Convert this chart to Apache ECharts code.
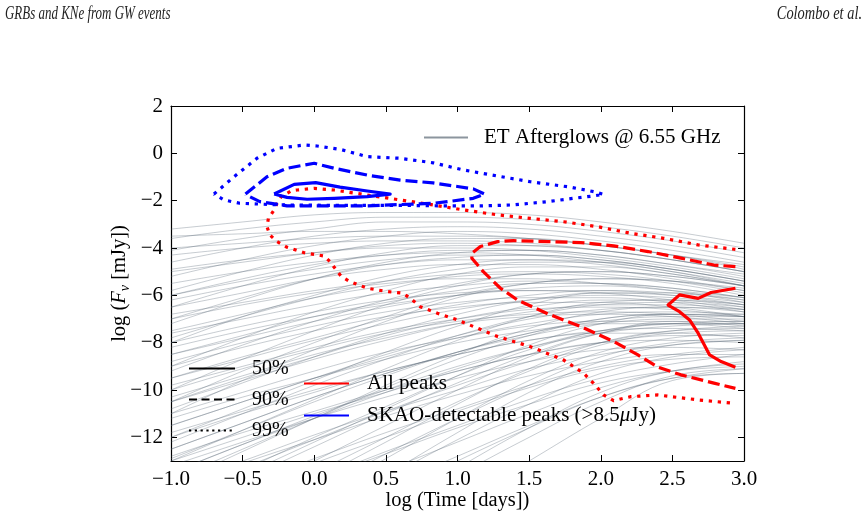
<!DOCTYPE html>
<html>
<head>
<meta charset="utf-8">
<script src="https://cdn.jsdelivr.net/npm/echarts@6/dist/echarts.min.js"></script>
<style>
  html, body { margin: 0; padding: 0; background: #fff; }
  #chart { width: 867px; height: 519px; }
</style>
</head>
<body>
<div id="chart"></div>
<script>
// log time grid (days) used by the afterglow light curves
const timeGrid = [-1, -0.5, 0, 0.5, 1, 1.5, 2, 2.5, 3];

// log flux of each light curve at timeGrid
const afterglows = [
  [-3.2, -2.9, -2.6, -2.5, -2.5, -2.6, -2.9, -3.3, -3.8],
  [-3.6, -3.2, -2.9, -2.7, -2.7, -2.8, -3.1, -3.5, -4.0],
  [-4.1, -3.6, -3.2, -2.9, -2.9, -3.0, -3.3, -3.7, -4.2],
  [-4.6, -4.0, -3.5, -3.2, -3.1, -3.2, -3.5, -3.9, -4.4],
  [-5.2, -4.5, -3.9, -3.5, -3.3, -3.4, -3.7, -4.1, -4.6],
  [-5.8, -5.0, -4.3, -3.8, -3.6, -3.6, -3.9, -4.3, -4.8],
  [-6.5, -5.6, -4.8, -4.2, -3.9, -3.9, -4.1, -4.5, -5.0],
  [-7.2, -6.2, -5.3, -4.6, -4.2, -4.1, -4.3, -4.7, -5.1],
  [-4.0, -3.8, -3.6, -3.5, -3.5, -3.6, -3.9, -4.3, -4.9],
  [-5.0, -4.6, -4.2, -3.9, -3.8, -3.9, -4.1, -4.5, -5.0],
  [-6.0, -5.3, -4.7, -4.3, -4.1, -4.1, -4.3, -4.7, -5.2],
  [-7.0, -6.1, -5.3, -4.7, -4.4, -4.3, -4.5, -4.9, -5.4],
  [-8.0, -6.9, -6.0, -5.2, -4.7, -4.5, -4.6, -5.0, -5.5],
  [-9.0, -7.8, -6.7, -5.8, -5.1, -4.8, -4.8, -5.1, -5.6],
  [-10.0, -8.7, -7.5, -6.4, -5.6, -5.1, -5.0, -5.2, -5.6],
  [-11.0, -9.6, -8.3, -7.1, -6.1, -5.5, -5.3, -5.4, -5.7],
  [-5.5, -5.0, -4.6, -4.3, -4.2, -4.3, -4.6, -5.0, -5.6],
  [-6.5, -5.9, -5.3, -4.9, -4.7, -4.7, -4.9, -5.3, -5.8],
  [-7.5, -6.8, -6.1, -5.6, -5.2, -5.1, -5.2, -5.5, -6.0],
  [-8.5, -7.7, -6.9, -6.3, -5.8, -5.5, -5.5, -5.7, -6.1],
  [-9.5, -8.6, -7.8, -7.0, -6.4, -6.0, -5.8, -5.9, -6.2],
  [-10.5, -9.5, -8.6, -7.7, -7.0, -6.5, -6.2, -6.2, -6.4],
  [-11.5, -10.5, -9.5, -8.5, -7.7, -7.0, -6.6, -6.5, -6.6],
  [-12.5, -11.4, -10.3, -9.3, -8.4, -7.6, -7.1, -6.9, -6.9],
  [-13.5, -12.3, -11.2, -10.1, -9.1, -8.2, -7.5, -7.2, -7.1],
  [-14.5, -13.3, -12.1, -10.9, -9.8, -8.8, -8.0, -7.5, -7.3],
  [-7.0, -6.4, -5.9, -5.5, -5.3, -5.3, -5.5, -5.8, -6.3],
  [-8.0, -7.3, -6.7, -6.2, -5.9, -5.8, -5.9, -6.2, -6.6],
  [-9.0, -8.2, -7.5, -6.9, -6.5, -6.3, -6.3, -6.5, -6.9],
  [-10.0, -9.1, -8.3, -7.6, -7.1, -6.8, -6.7, -6.8, -7.1],
  [-11.0, -10.1, -9.2, -8.4, -7.8, -7.3, -7.1, -7.1, -7.3],
  [-12.0, -11.0, -10.1, -9.2, -8.5, -7.9, -7.5, -7.4, -7.5],
  [-13.0, -12.0, -11.0, -10.1, -9.2, -8.5, -8.0, -7.7, -7.7],
  [-14.0, -13.0, -11.9, -10.9, -10.0, -9.1, -8.5, -8.1, -7.9],
  [-15.0, -14.0, -12.9, -11.8, -10.8, -9.8, -9.0, -8.5, -8.2],
  [-16.0, -15.0, -13.8, -12.6, -11.5, -10.4, -9.5, -8.9, -8.5],
  [-17.0, -15.8, -14.6, -13.4, -12.2, -11.0, -9.9, -9.2, -8.8],
  [-18.0, -16.7, -15.4, -14.1, -12.8, -11.5, -10.3, -9.5, -9.1],
  [-16.0, -14.9, -13.8, -12.7, -11.6, -10.6, -9.7, -9.2, -9.0],
  [-19.0, -17.5, -16.0, -14.5, -13.0, -11.6, -10.3, -9.5, -9.3],
  [-22.0, -20.2, -18.4, -16.6, -14.8, -13.0, -11.2, -9.6, -9.3],
  [-20.0, -18.4, -16.8, -15.2, -13.6, -12.0, -10.5, -9.4, -9.1],
  [-12.0, -10.8, -9.6, -8.4, -7.3, -6.4, -5.9, -5.9, -6.2],
  [-13.0, -11.7, -10.4, -9.1, -7.9, -6.9, -6.3, -6.2, -6.5],
  [-14.0, -12.6, -11.2, -9.8, -8.5, -7.4, -6.7, -6.5, -6.7],
  [-15.0, -13.6, -12.2, -10.8, -9.4, -8.1, -7.2, -6.8, -6.9],
  [-16.0, -14.5, -13.0, -11.5, -10.0, -8.6, -7.6, -7.1, -7.1],
  [-17.0, -15.4, -13.8, -12.2, -10.6, -9.1, -8.0, -7.5, -7.4],
  [-18.0, -16.3, -14.6, -12.9, -11.2, -9.6, -8.4, -7.8, -7.6],
  [-19.0, -17.2, -15.4, -13.6, -11.8, -10.1, -8.8, -8.1, -7.9],
  [-8.5, -7.8, -7.1, -6.5, -6.0, -5.7, -5.6, -5.8, -6.1],
  [-9.5, -8.7, -7.9, -7.2, -6.6, -6.2, -6.0, -6.1, -6.4],
  [-10.5, -9.6, -8.7, -7.9, -7.2, -6.7, -6.4, -6.4, -6.6],
  [-11.5, -10.5, -9.5, -8.6, -7.8, -7.2, -6.8, -6.7, -6.8],
  [-12.5, -11.4, -10.3, -9.3, -8.4, -7.7, -7.2, -7.0, -7.0],
  [-13.5, -12.3, -11.1, -10.0, -9.0, -8.2, -7.6, -7.3, -7.2],
  [-3.5, -3.4, -3.3, -3.3, -3.4, -3.6, -3.9, -4.3, -4.7],
  [-4.3, -4.0, -3.8, -3.7, -3.7, -3.8, -4.1, -4.5, -5.0],
  [-4.9, -4.5, -4.2, -4.0, -4.0, -4.1, -4.4, -4.8, -5.3],
  [-6.2, -5.6, -5.1, -4.7, -4.5, -4.5, -4.7, -5.1, -5.6],
  [-6.8, -6.3, -5.8, -5.4, -5.1, -5.0, -5.1, -5.4, -5.9],
  [-7.6, -7.0, -6.4, -5.9, -5.6, -5.4, -5.5, -5.7, -6.1],
  [-8.2, -7.5, -6.9, -6.4, -6.0, -5.8, -5.8, -6.0, -6.4],
  [-8.8, -8.0, -7.3, -6.7, -6.3, -6.1, -6.1, -6.3, -6.7],
  [-9.8, -9.0, -8.2, -7.5, -7.0, -6.6, -6.5, -6.6, -6.9],
  [-10.3, -9.4, -8.5, -7.8, -7.2, -6.9, -6.8, -6.9, -7.2],
  [-11.2, -10.3, -9.5, -8.7, -8.0, -7.5, -7.2, -7.2, -7.4],
  [-11.8, -10.9, -10.0, -9.2, -8.5, -7.9, -7.6, -7.6, -7.8],
  [-12.8, -11.8, -10.9, -10.0, -9.2, -8.5, -8.0, -7.9, -8.0],
  [-13.2, -12.2, -11.2, -10.3, -9.5, -8.8, -8.3, -8.2, -8.3],
  [-14.2, -13.1, -12.1, -11.1, -10.2, -9.4, -8.8, -8.5, -8.5],
  [-15.5, -14.3, -13.1, -12.0, -10.9, -9.9, -9.1, -8.7, -8.6],
  [-10.8, -9.7, -8.6, -7.6, -6.8, -6.2, -5.9, -6.0, -6.3],
  [-12.2, -11.0, -9.8, -8.7, -7.7, -6.9, -6.4, -6.3, -6.5],
  [-13.8, -12.5, -11.2, -9.9, -8.7, -7.7, -7.0, -6.8, -6.9],
  [-15.2, -13.8, -12.4, -11.0, -9.7, -8.5, -7.6, -7.2, -7.2],
  [-16.5, -15.0, -13.5, -12.0, -10.5, -9.2, -8.1, -7.6, -7.5],
  [-17.5, -15.9, -14.3, -12.7, -11.2, -9.8, -8.6, -8.0, -7.8],
  [-18.5, -16.9, -15.3, -13.7, -12.1, -10.6, -9.3, -8.6, -8.3],
  [-20.5, -18.7, -16.9, -15.1, -13.3, -11.6, -10.1, -9.2, -8.9],
  [-9.2, -8.1, -7.1, -6.2, -5.5, -5.1, -5.0, -5.2, -5.6],
  [-10.5, -9.2, -8.0, -6.9, -6.0, -5.5, -5.3, -5.4, -5.8],
  [-7.8, -6.9, -6.1, -5.4, -4.9, -4.6, -4.6, -4.9, -5.4],
  [-6.0, -5.4, -4.9, -4.5, -4.3, -4.3, -4.5, -4.9, -5.4],
  [-14.8, -13.4, -12.0, -10.7, -9.4, -8.3, -7.5, -7.2, -7.2],
  [-12.9, -11.7, -10.5, -9.4, -8.4, -7.6, -7.0, -6.8, -6.8]
];

// peak contours [log t, log F]
const blue50 = [[-0.28,-1.72],[-0.14,-1.31],[0.01,-1.24],[0.18,-1.43],[0.37,-1.59],[0.53,-1.72],[0.37,-1.83],[0.14,-1.90],[-0.05,-1.94],[-0.19,-1.86],[-0.28,-1.72]];
const blue90 = [[-0.48,-1.72],[-0.33,-0.99],[-0.19,-0.63],[0.00,-0.42],[0.14,-0.63],[0.37,-0.92],[0.60,-1.13],[0.83,-1.25],[1.00,-1.40],[1.11,-1.50],[1.19,-1.72],[1.11,-1.90],[0.93,-2.04],[0.83,-2.11],[0.37,-2.22],[-0.19,-2.22],[-0.38,-2.04],[-0.45,-1.83],[-0.48,-1.72]];
const blue99 = [[-0.70,-1.72],[-0.56,-0.99],[-0.40,-0.21],[-0.26,0.21],[-0.07,0.35],[0.02,0.31],[0.18,0.17],[0.37,-0.14],[0.60,-0.21],[0.83,-0.40],[1.04,-0.70],[1.28,-0.96],[1.51,-1.20],[1.79,-1.43],[1.95,-1.62],[2.02,-1.73],[1.95,-1.80],[1.81,-1.90],[1.63,-2.04],[1.39,-2.18],[1.16,-2.22],[0.93,-2.22],[0.60,-2.20],[0.20,-2.20],[-0.24,-2.18],[-0.52,-2.11],[-0.63,-1.97],[-0.70,-1.72]];
const red50 = [[2.94,-5.70],[2.77,-5.88],[2.68,-6.13],[2.55,-5.98],[2.47,-6.41],[2.55,-6.69],[2.62,-7.04],[2.68,-7.60],[2.76,-8.52],[2.84,-8.80],[2.94,-9.04]];
const red90 = [[2.94,-4.79],[2.79,-4.72],[2.56,-4.43],[2.33,-4.15],[2.09,-3.91],[1.86,-3.77],[1.63,-3.73],[1.39,-3.69],[1.28,-3.73],[1.16,-3.94],[1.10,-4.22],[1.10,-4.43],[1.18,-5.00],[1.30,-5.70],[1.42,-6.20],[1.63,-6.78],[1.86,-7.32],[2.09,-7.95],[2.26,-8.52],[2.40,-9.04],[2.56,-9.36],[2.79,-9.71],[2.94,-9.93]];
const red99 = [[2.94,-4.06],[2.68,-3.87],[2.44,-3.59],[2.21,-3.38],[1.98,-3.10],[1.74,-2.89],[1.51,-2.75],[1.28,-2.60],[1.04,-2.39],[0.83,-2.18],[0.60,-1.97],[0.37,-1.76],[0.14,-1.55],[0.00,-1.48],[-0.12,-1.55],[-0.16,-1.58],[-0.23,-1.83],[-0.26,-2.11],[-0.28,-2.39],[-0.32,-2.75],[-0.33,-3.10],[-0.31,-3.45],[-0.26,-3.73],[-0.19,-3.97],[-0.07,-4.20],[0.07,-4.34],[0.11,-4.58],[0.15,-4.90],[0.19,-5.21],[0.25,-5.42],[0.37,-5.70],[0.51,-5.84],[0.62,-5.91],[0.68,-6.17],[0.74,-6.48],[0.86,-6.76],[1.00,-7.04],[1.14,-7.39],[1.28,-7.74],[1.51,-8.17],[1.74,-8.73],[1.88,-9.29],[1.95,-9.72],[2.02,-10.21],[2.09,-10.45],[2.21,-10.28],[2.40,-10.21],[2.68,-10.42],[2.93,-10.56]];

const yTicks = [-12, -10, -8, -6, -4, -2, 0, 2];

const FONT = '"Liberation Serif", "Times New Roman", serif';
const DASHED = [12, 5];
const DOTTED = [3.3, 5.7];

const chart = echarts.init(document.getElementById('chart'), null, { renderer: 'canvas' });

const minus = v => String(v).replace('-', '\u2212');

const grayCurves = afterglows.map(c => ({
  type: 'line',
  data: c.map((y, i) => [timeGrid[i], y]),
  smooth: 0.4,
  symbol: 'none',
  silent: true,
  z: 1,
  lineStyle: { color: '#566473', width: 1, opacity: 0.33 }
}));

function contour(data, color, type) {
  return {
    type: 'line',
    data: data,
    symbol: 'none',
    silent: true,
    z: color === '#0000ff' ? 4 : 3,
    lineStyle: { color: color, width: 3.2, type: type, cap: 'butt', join: 'round' }
  };
}

function legendOnly(name, color, type, width) {
  return {
    name: name,
    type: 'line',
    data: [],
    symbol: 'none',
    color: color,
    lineStyle: { color: color, width: width, type: type }
  };
}

const SKAO = 'SKAO-detectable peaks (>8.5\u03bcJy)';

var option = {
  animation: false,
  backgroundColor: '#fff',
  grid: { left: 171, right: 123, top: 106, bottom: 58, containLabel: false },
  graphic: [
    {
      type: 'text', x: 5, y: 5, scaleX: 0.72,
      style: { text: 'GRBs and KNe from GW events', font: 'italic 18px ' + FONT, fill: '#222', textVerticalAlign: 'top' }
    },
    {
      type: 'text', x: 862, y: 5, scaleX: 0.8,
      style: { text: 'Colombo et al.', font: 'italic 18px ' + FONT, fill: '#222', textAlign: 'right', textVerticalAlign: 'top' }
    }
  ],
  legend: [
    {
      data: ['ET Afterglows @ 6.55 GHz'],
      left: 423, top: 127, padding: 0,
      itemWidth: 44, itemHeight: 14,
      selectedMode: false,
      itemStyle: { opacity: 0 },
      textStyle: { fontFamily: FONT, fontSize: 21, color: '#000', padding: [0, 0, 0, 11] }
    },
    {
      data: ['50%', '90%', '99%'],
      orient: 'vertical',
      left: 188, top: 358, padding: 0,
      itemWidth: 46, itemHeight: 14, itemGap: 10,
      selectedMode: false,
      itemStyle: { opacity: 0 },
      textStyle: { fontFamily: FONT, fontSize: 20, lineHeight: 21, color: '#000', padding: [0, 0, 0, 12] }
    },
    {
      data: ['All peaks', SKAO],
      orient: 'vertical',
      left: 303, top: 373, padding: 0,
      itemWidth: 45, itemHeight: 14, itemGap: 11,
      selectedMode: false,
      itemStyle: { opacity: 0 },
      formatter: function (name) {
        if (name === SKAO) return '{n|SKAO-detectable peaks (>8.5}{i|\u03bc}{n|Jy)}';
        return '{n|' + name + '}';
      },
      textStyle: {
        fontFamily: FONT, fontSize: 21, lineHeight: 21, color: '#000', padding: [0, 0, 0, 13],
        rich: {
          n: { fontFamily: FONT, fontSize: 21, color: '#000' },
          i: { fontFamily: FONT, fontSize: 21, fontStyle: 'italic', color: '#000' }
        }
      }
    }
  ],
  xAxis: [
    {
      type: 'value', min: -1, max: 3, interval: 0.5,
      name: 'log (Time [days])', nameLocation: 'middle', nameGap: 29, nameMoveOverlap: false,
      nameTextStyle: { fontFamily: FONT, fontSize: 20.5, color: '#000' },
      axisLine: { onZero: false, lineStyle: { color: '#000', width: 1.2 } },
      axisTick: { inside: true, length: 6, lineStyle: { color: '#000', width: 1 } },
      axisLabel: { fontFamily: FONT, fontSize: 21, color: '#000', margin: 8, formatter: v => minus(v.toFixed(1)) },
      splitLine: { show: false }
    },
    {
      type: 'value', min: -1, max: 3, interval: 0.5, position: 'top',
      axisLine: { onZero: false, lineStyle: { color: '#000', width: 1.2 } },
      axisTick: { inside: true, length: 6, lineStyle: { color: '#000', width: 1 } },
      axisLabel: { show: false },
      splitLine: { show: false }
    }
  ],
  yAxis: [
    {
      type: 'value', min: -13, max: 2,
      name: '{n|log (}{i|F}{s|\u03bd}{n| [mJy])}', nameLocation: 'middle', nameGap: 39, nameRotate: 90, nameMoveOverlap: false,
      nameTextStyle: {
        fontFamily: FONT, fontSize: 20.5, color: '#000',
        rich: {
          n: { fontFamily: FONT, fontSize: 20.5, color: '#000', lineHeight: 24 },
          i: { fontFamily: FONT, fontSize: 20.5, fontStyle: 'italic', color: '#000', lineHeight: 24 },
          s: { fontFamily: FONT, fontSize: 14, fontStyle: 'italic', color: '#000', lineHeight: 24, verticalAlign: 'bottom' }
        }
      },
      axisLine: { onZero: false, lineStyle: { color: '#000', width: 1.2 } },
      axisTick: { inside: true, length: 6, customValues: yTicks, lineStyle: { color: '#000', width: 1 } },
      axisLabel: { fontFamily: FONT, fontSize: 21, color: '#000', margin: 8, customValues: yTicks, formatter: v => minus(v) },
      splitLine: { show: false }
    },
    {
      type: 'value', min: -13, max: 2, position: 'right',
      axisLine: { onZero: false, lineStyle: { color: '#000', width: 1.2 } },
      axisTick: { inside: true, length: 6, customValues: yTicks, lineStyle: { color: '#000', width: 1 } },
      axisLabel: { show: false, customValues: yTicks },
      splitLine: { show: false }
    }
  ],
  series: grayCurves.concat([
    contour(red99, '#ff0000', DOTTED),
    contour(red90, '#ff0000', DASHED),
    contour(red50, '#ff0000', 'solid'),
    contour(blue99, '#0000ff', DOTTED),
    contour(blue90, '#0000ff', DASHED),
    contour(blue50, '#0000ff', 'solid'),
    legendOnly('ET Afterglows @ 6.55 GHz', '#8c959e', 'solid', 1.6),
    legendOnly('50%', '#000', 'solid', 2.6),
    legendOnly('90%', '#000', [8, 4.5], 2.6),
    legendOnly('99%', '#000', [2.2, 3.6], 2.6),
    legendOnly('All peaks', '#ff0000', 'solid', 3),
    legendOnly(SKAO, '#0000ff', 'solid', 3)
  ])
};

chart.setOption(option);
</script>
</body>
</html>
